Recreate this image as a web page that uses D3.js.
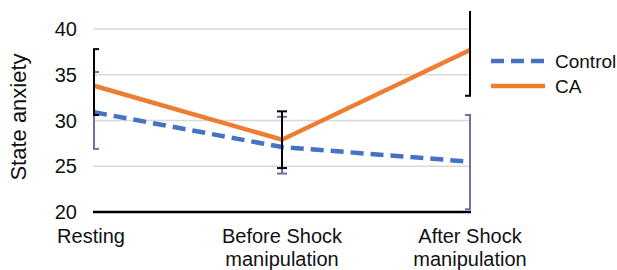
<!DOCTYPE html>
<html>
<head>
<meta charset="utf-8">
<script src="https://cdn.jsdelivr.net/npm/d3@7"></script>
<style>
  body { margin: 0; background: #fff; }
  svg text { font-family: "Liberation Sans", Arial, sans-serif; fill: #111; }
</style>
</head>
<body>
<div id="chart"></div>
<script>
// chart values
const categories = ["Resting", "Before Shock\nmanipulation", "After Shock\nmanipulation"];
const yTicks = [20, 25, 30, 35, 40];
const controlMean = [30.9, 27.1, 25.5];
const controlLow = [26.9, 24.2, 20.3];
const controlHigh = [35.3, 30.4, 30.6];
const caMean = [33.8, 27.9, 37.7];
const caLow = [30.6, 24.8, 32.7];
const caHigh = [37.8, 31.0, 42.7];

const width = 617, height = 270;

const svg = d3.select("#chart").append("svg")
    .attr("width", width)
    .attr("height", height);

const x = d3.scalePoint().domain(categories).range([94, 470]).padding(0);
const y = d3.scaleLinear().domain([20, 40]).range([212, 29]);

// gridlines
svg.append("g")
    .selectAll("line")
    .data(yTicks.filter(d => d > 20))
    .enter().append("line")
    .attr("x1", 93).attr("x2", 471)
    .attr("y1", d => y(d)).attr("y2", d => y(d))
    .attr("stroke", "#d9d9d9")
    .attr("stroke-width", 1.5);

// y tick labels
svg.append("g")
    .selectAll("text")
    .data(yTicks)
    .enter().append("text")
    .attr("x", 77)
    .attr("y", d => y(d))
    .attr("dy", "0.35em")
    .attr("text-anchor", "end")
    .attr("font-size", "20px")
    .text(d => d);

// x axis line
svg.append("line")
    .attr("x1", 93).attr("x2", 471)
    .attr("y1", y(20)).attr("y2", y(20))
    .attr("stroke", "#000")
    .attr("stroke-width", 2.5);

// x labels
const xl = svg.append("g")
    .selectAll("text")
    .data(categories)
    .enter().append("text")
    .attr("text-anchor", "middle")
    .attr("font-size", "20px");
xl.each(function(d) {
    const lines = d.split("\n");
    const t = d3.select(this);
    lines.forEach((ln, i) => {
        t.append("tspan")
            .attr("x", x(d) + (i === 0 && lines.length === 1 ? -3 : 0))
            .attr("y", 243 + i * 23)
            .text(ln);
    });
});

// y title
svg.append("text")
    .attr("transform", "translate(26,117) rotate(-90)")
    .attr("text-anchor", "middle")
    .attr("font-size", "22px")
    .text("State anxiety");

// series lines
const line = d3.line()
    .x((d, i) => x(categories[i]))
    .y(d => y(d));

svg.append("path")
    .datum(controlMean)
    .attr("d", line)
    .attr("fill", "none")
    .attr("stroke", "#4472c4")
    .attr("stroke-width", 4.5)
    .attr("stroke-dasharray", "13,7");

svg.append("path")
    .datum(caMean)
    .attr("d", line)
    .attr("fill", "none")
    .attr("stroke", "#ed7d31")
    .attr("stroke-width", 4.5);

// error bars, clipped to the plot area
svg.append("clipPath").attr("id", "plotclip")
    .append("rect")
    .attr("x", 93).attr("y", 11)
    .attr("width", 378).attr("height", 205);

const eb = svg.append("g").attr("clip-path", "url(#plotclip)");

function errorBars(low, high, color, sw) {
    const g = eb.append("g").attr("stroke", color).attr("stroke-width", sw);
    categories.forEach((c, i) => {
        const cx = x(c);
        g.append("line")
            .attr("x1", cx).attr("x2", cx)
            .attr("y1", y(low[i])).attr("y2", y(high[i]));
        [low[i], high[i]].forEach(v => {
            g.append("line")
                .attr("x1", cx - 5).attr("x2", cx + 5)
                .attr("y1", y(v)).attr("y2", y(v));
        });
    });
}
errorBars(controlLow, controlHigh, "#6f6fae", 2);
errorBars(caLow, caHigh, "#000", 2);

// legend
const legend = [
    { name: "Control", color: "#4472c4", dash: "13,7" },
    { name: "CA", color: "#ed7d31", dash: null }
];
const lg = svg.append("g");
legend.forEach((d, i) => {
    const ly = 61 + i * 25;
    lg.append("line")
        .attr("x1", 491).attr("x2", 545)
        .attr("y1", ly).attr("y2", ly)
        .attr("stroke", d.color)
        .attr("stroke-width", 4.5)
        .attr("stroke-dasharray", d.dash);
    lg.append("text")
        .attr("x", 555).attr("y", ly)
        .attr("dy", "0.35em")
        .attr("font-size", "19px")
        .text(d.name);
});
</script>
</body>
</html>
